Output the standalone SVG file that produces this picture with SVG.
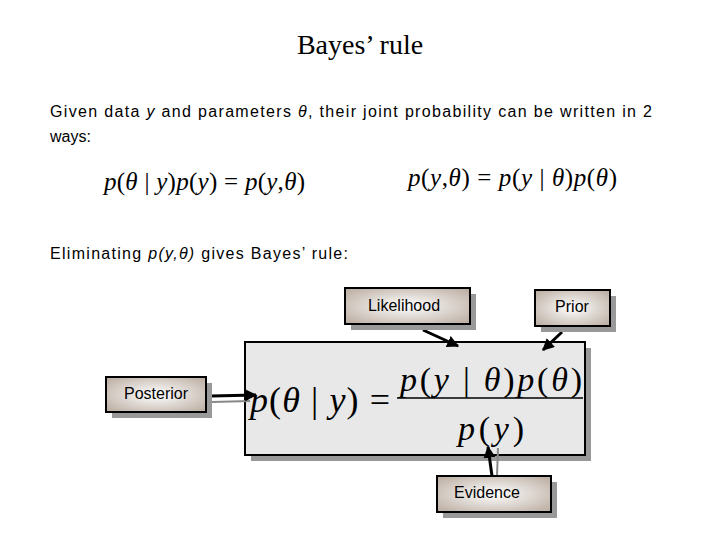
<svg xmlns="http://www.w3.org/2000/svg" width="720" height="540" viewBox="0 0 720 540">
<defs>
<radialGradient id="g" cx="50%" cy="50%" r="70%"><stop offset="0" stop-color="#ffffff"/><stop offset="1" stop-color="#b8aa9e"/></radialGradient>
<marker id="a" viewBox="0 0 10 10" refX="9" refY="5" markerWidth="4" markerHeight="4" orient="auto"><path d="M0,0L10,5L0,10z" fill="#000"/></marker>
</defs>
<style>
.t{font-family:"Liberation Serif",serif;font-style:italic}
.s{font-family:"Liberation Sans",sans-serif;font-size:16px}
.lab rect.b{fill:url(#g);stroke:#000;stroke-width:2}
.sh{fill:#999}
.c{stroke:#000;stroke-width:3;fill:none;marker-end:url(#a)}
.c2{stroke:#888;stroke-width:2;fill:none}
</style>
<rect width="720" height="540" fill="#fff"/>
<text x="360" y="54" text-anchor="middle" font-family="Liberation Serif,serif" font-size="28">Bayes’ rule</text>
<text class="s" x="50" y="117" textLength="602" lengthAdjust="spacing">Given data <tspan font-style="italic">y</tspan> and parameters <tspan font-style="italic">θ</tspan>, their joint probability can be written in 2</text>
<text class="s" x="50" y="142">ways:</text>
<text class="t" x="104" y="190" font-size="25" textLength="201" lengthAdjust="spacing">p<tspan font-style="normal">(</tspan>θ<tspan font-style="normal"> | </tspan>y<tspan font-style="normal">)</tspan>p<tspan font-style="normal">(</tspan>y<tspan font-style="normal">) = </tspan>p<tspan font-style="normal">(</tspan>y<tspan font-style="normal">,</tspan>θ<tspan font-style="normal">)</tspan></text>
<text class="t" x="408" y="186" font-size="25" textLength="209" lengthAdjust="spacing">p<tspan font-style="normal">(</tspan>y<tspan font-style="normal">,</tspan>θ<tspan font-style="normal">) = </tspan>p<tspan font-style="normal">(</tspan>y<tspan font-style="normal"> | </tspan>θ<tspan font-style="normal">)</tspan>p<tspan font-style="normal">(</tspan>θ<tspan font-style="normal">)</tspan></text>
<text class="s" x="50" y="259" textLength="298" lengthAdjust="spacing">Eliminating <tspan font-style="italic">p(y,θ)</tspan> gives Bayes’ rule:</text>
<g id="formula">
<rect x="251" y="348" width="340" height="113" class="sh"/>
<rect x="245" y="342" width="340" height="113" fill="#e8e8e8" stroke="#000" stroke-width="2"/>
<text class="t" x="250" y="412" font-size="36" textLength="140" lengthAdjust="spacing">p<tspan font-style="normal">(</tspan>θ<tspan font-style="normal"> | </tspan>y<tspan font-style="normal">) =</tspan></text>
<text class="t" x="400" y="391" font-size="34" textLength="182" lengthAdjust="spacing">p<tspan font-style="normal">(</tspan>y<tspan font-style="normal"> | </tspan>θ<tspan font-style="normal">)</tspan>p<tspan font-style="normal">(</tspan>θ<tspan font-style="normal">)</tspan></text>
<line x1="397" y1="398" x2="583" y2="398" stroke="#000" stroke-width="1.5"/>
<text class="t" x="458" y="440" font-size="34" textLength="66" lengthAdjust="spacing">p<tspan font-style="normal">(</tspan>y<tspan font-style="normal">)</tspan></text>
</g>
<g id="connectors">
<line class="c2" x1="212" y1="402" x2="250" y2="401"/>
<line class="c" x1="211" y1="396" x2="256" y2="395"/>
<line class="c2" x1="498" y1="448" x2="497" y2="476"/>
<line class="c" x1="492" y1="476" x2="488" y2="447"/>
<line class="c" x1="423" y1="330" x2="458" y2="346"/>
<line class="c" x1="562" y1="332" x2="543" y2="350"/>
</g>
<g id="likelihood" class="lab"><rect x="351" y="294" width="125" height="36" class="sh"/><rect class="b" x="345" y="288" width="125" height="36"/><text class="s" x="404" y="311" text-anchor="middle">Likelihood</text></g>
<g id="prior" class="lab"><rect x="541" y="296" width="75" height="36" class="sh"/><rect class="b" x="535" y="290" width="75" height="36"/><text class="s" x="572" y="312" text-anchor="middle">Prior</text></g>
<g id="posterior" class="lab"><rect x="112" y="383" width="100" height="35" class="sh"/><rect class="b" x="106" y="377" width="100" height="35"/><text class="s" x="156" y="399" text-anchor="middle">Posterior</text></g>
<g id="evidence" class="lab"><rect x="443" y="482" width="114" height="36" class="sh"/><rect class="b" x="437" y="476" width="114" height="36"/><text class="s" x="487" y="498" text-anchor="middle">Evidence</text></g>
</svg>
